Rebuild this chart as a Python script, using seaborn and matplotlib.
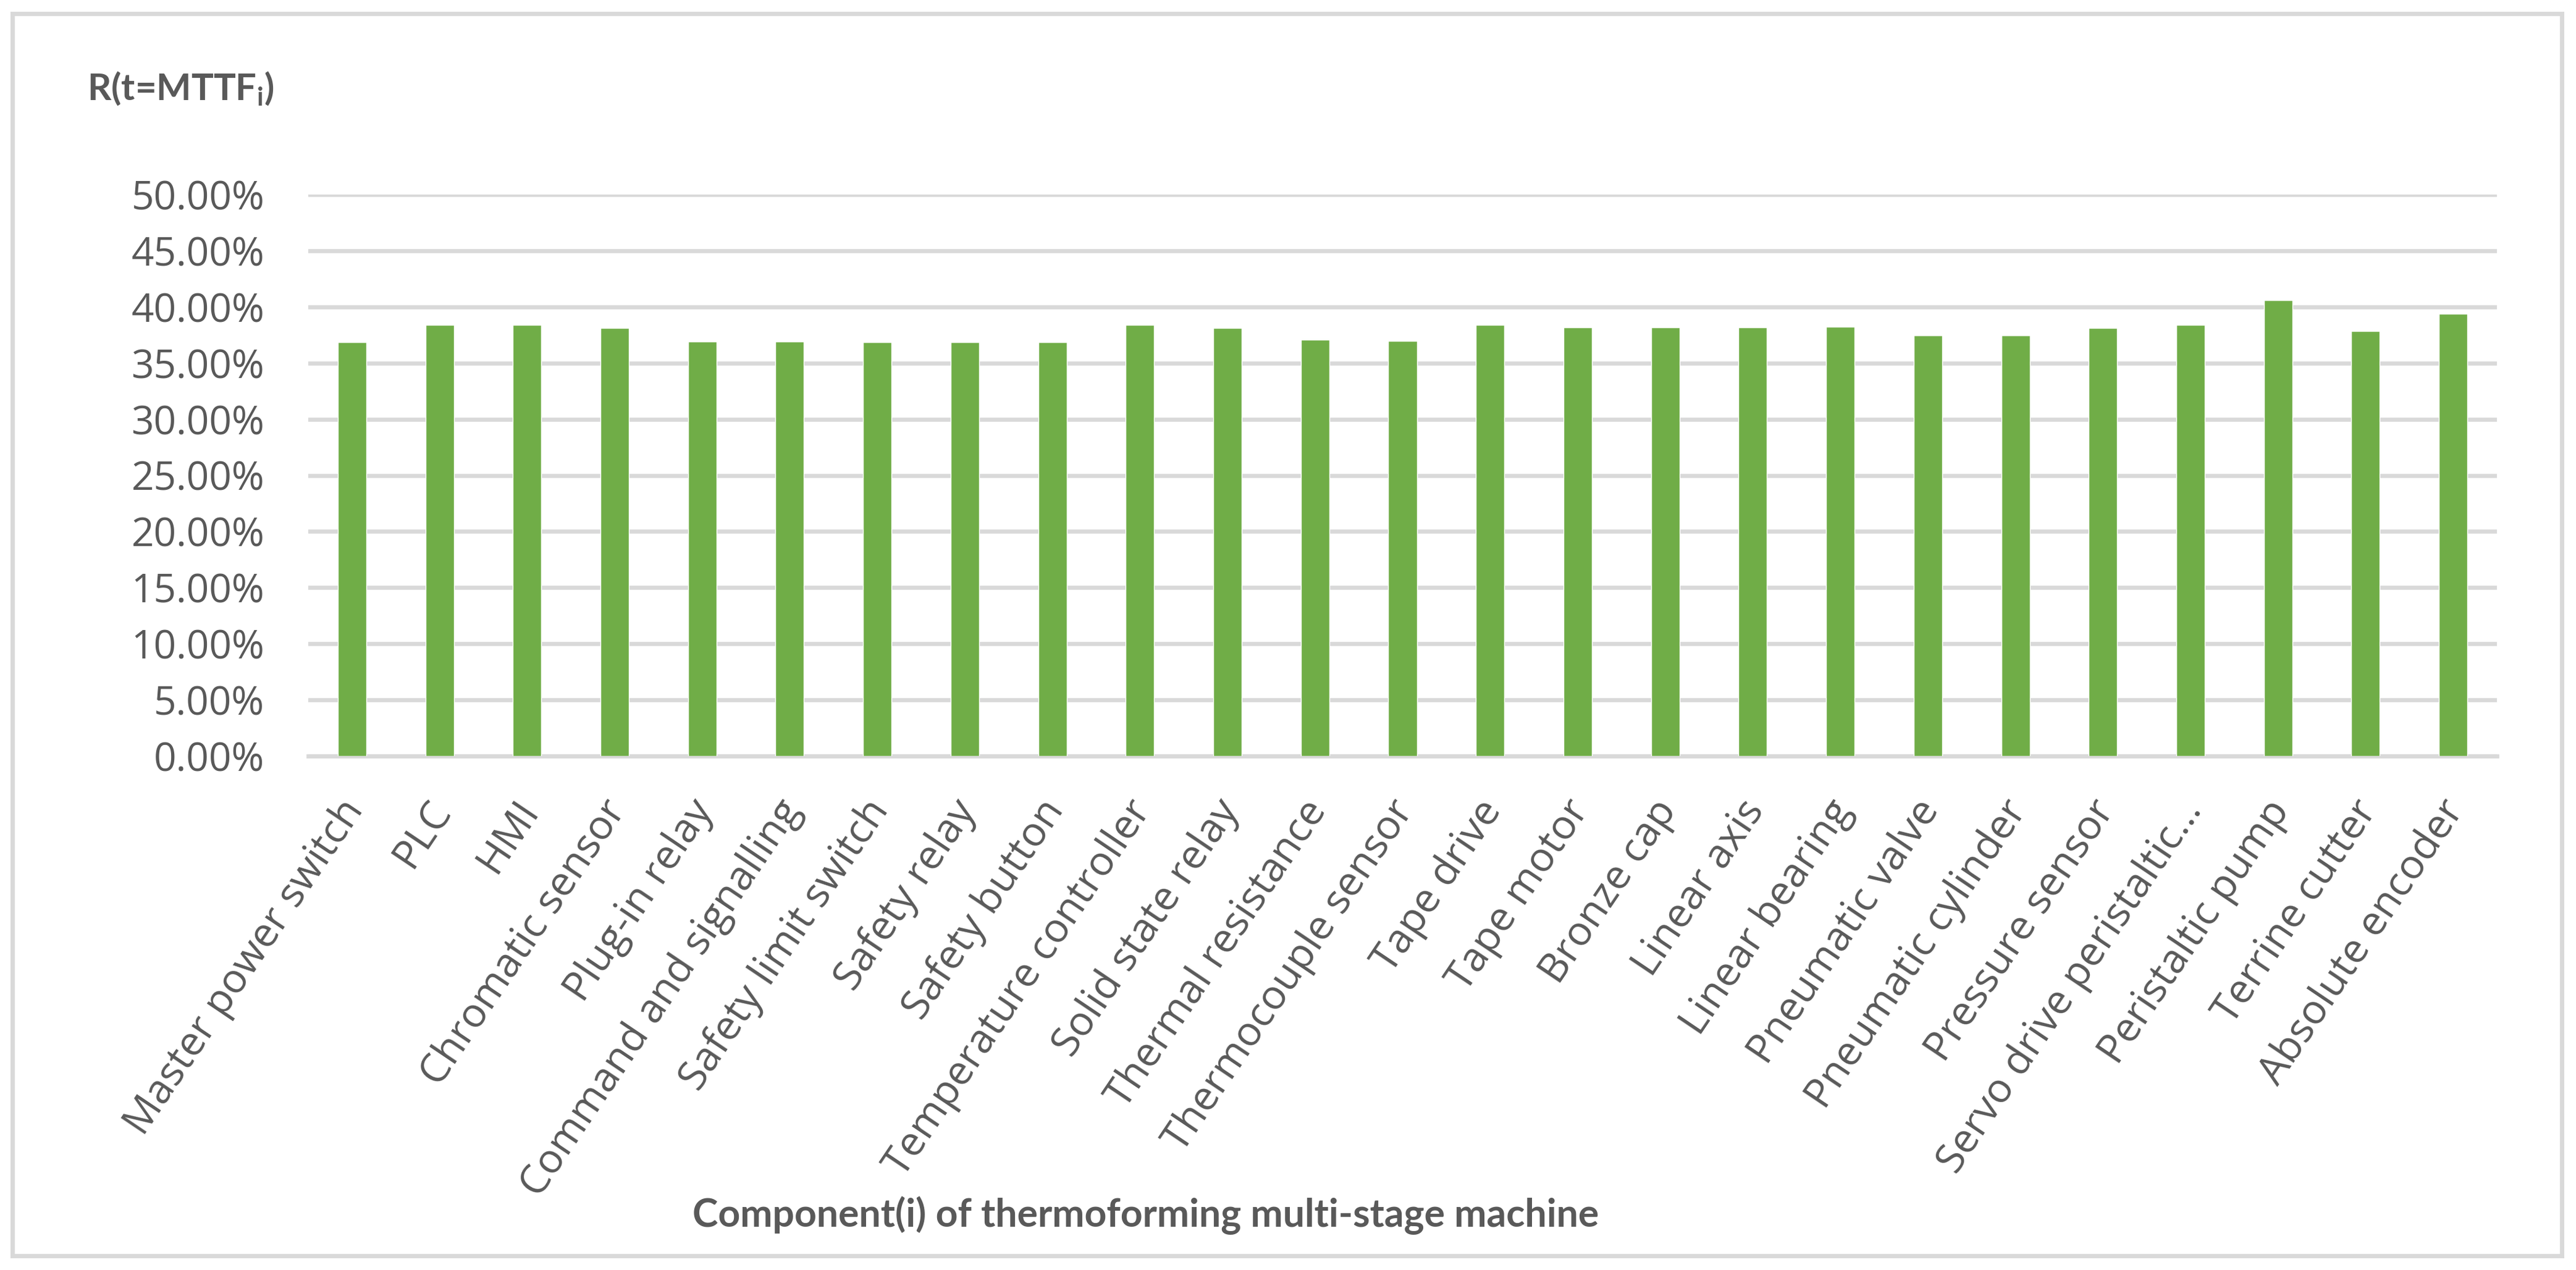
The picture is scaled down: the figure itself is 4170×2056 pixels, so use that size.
import numpy as np
import pandas as pd
import matplotlib
matplotlib.use("Agg")
import matplotlib.pyplot as plt
import matplotlib.transforms as mtransforms
from matplotlib.patches import Rectangle
from matplotlib.ticker import PercentFormatter
import seaborn as sns

# Data
components = [
    "Master power switch", "PLC", "HMI", "Chromatic sensor", "Plug-in relay",
    "Command and signalling", "Safety limit switch", "Safety relay", "Safety button",
    "Temperature controller", "Solid state relay", "Thermal resistance",
    "Thermocouple sensor", "Tape drive", "Tape motor", "Bronze cap", "Linear axis",
    "Linear bearing", "Pneumatic valve", "Pneumatic cylinder", "Pressure sensor",
    "Servo drive peristaltic\u2026", "Peristaltic pump", "Terrine cutter", "Absolute encoder",
]
reliability = [
    0.3683, 0.3837, 0.3837, 0.3810, 0.3689,
    0.3689, 0.3683, 0.3683, 0.3683, 0.3837,
    0.3810, 0.3705, 0.3694, 0.3837, 0.3815,
    0.3815, 0.3815, 0.3821, 0.3744, 0.3744,
    0.3810, 0.3837, 0.4062, 0.3782, 0.3936,
]
y_ticks = [0.0, 0.05, 0.10, 0.15, 0.20, 0.25, 0.30, 0.35, 0.40, 0.45, 0.50]

df = pd.DataFrame({"component": components, "R": reliability})

sns.set_style("white")
plt.rcParams["font.family"] = ["Open Sans", "DejaVu Sans"]

grey_text = "#595959"
grid_col = "#D9D9D9"
bar_col = "#70AD47"

W, H = 4170, 2056
fig = plt.figure(figsize=(W / 100, H / 100), dpi=100)
fig.patch.set_facecolor("white")

left, right = 499 / W, 4042 / W
bottom, top = 1 - 1224 / H, 1 - 315 / H
ax = fig.add_axes([left, bottom, right - left, top - bottom])

sns.barplot(data=df, x="component", y="R", color=bar_col, saturation=1,
            width=0.325, ax=ax, zorder=3)

ax.set_xlim(-0.5, len(components) - 0.5)
ax.set_ylim(0, 0.5)
ax.set_yticks(y_ticks)
ax.yaxis.set_major_formatter(PercentFormatter(1.0, decimals=2))
ax.set_xlabel("")
ax.set_ylabel("")

ax.grid(axis="y", color=grid_col, linewidth=4.8, zorder=0)
ax.grid(axis="x", visible=False)
ax.set_axisbelow(True)
for s in ["top", "left", "right"]:
    ax.spines[s].set_visible(False)
ax.spines["bottom"].set_color(grid_col)
ax.spines["bottom"].set_linewidth(4.8)
ax.spines["bottom"].set_zorder(1)

ax.tick_params(axis="y", length=0, pad=51, labelsize=46, labelcolor=grey_text)
ax.tick_params(axis="x", length=0, pad=56, labelsize=47.5, labelcolor=grey_text)
shift = mtransforms.ScaledTranslation(5 / 100, 0, fig.dpi_scale_trans)
for lab in ax.get_xticklabels():
    lab.set_rotation(56)
    lab.set_ha("right")
    lab.set_va("center")
    lab.set_rotation_mode("anchor")
    lab.set_transform(lab.get_transform() + shift)

# axis titles
fig.text(141 / W, 1 - 162 / H, r"R(t=MTTF$_\mathregular{i}$)", family="Lato",
         weight="bold", fontsize=43, color=grey_text, ha="left", va="baseline")
fig.text(1855 / W, 1 - 1968 / H, "Component(i) of thermoforming multi-stage machine",
         family="Lato", weight="bold", fontsize=45, color=grey_text,
         ha="center", va="center")

# chart border
fig.patches.append(Rectangle((20 / W, 1 - 2033 / H), (4147 - 20) / W, (2033 - 22) / H,
                             transform=fig.transFigure, fill=False,
                             edgecolor=grid_col, linewidth=5))

fig.savefig("out.png", dpi=100)
